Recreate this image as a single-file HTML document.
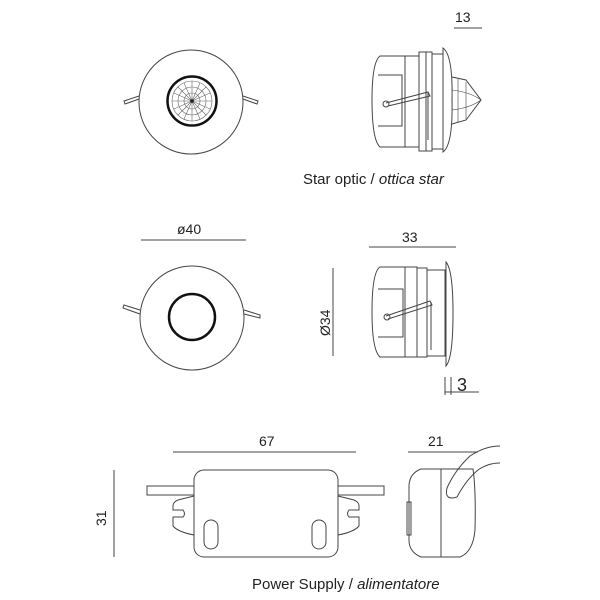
<!DOCTYPE html>
<html><head><style>body{margin:0;background:#fff}svg{display:block}text{font-family:"Liberation Sans",sans-serif;fill:#222}</style></head><body>
<svg width="600" height="600" viewBox="0 0 600 600" xmlns="http://www.w3.org/2000/svg" fill="none" stroke="#444" stroke-width="1">
<!-- top circle view -->
<circle cx="191" cy="102" r="52"/>
<path d="M139,96 L124,101 L125,104 L139,99"/><path d="M243,96 L258,101 L257,104 L243,99"/>
<circle cx="192" cy="101" r="24.5" stroke="#111" stroke-width="2.5"/>
<g stroke="#666" stroke-width="0.6">
<circle cx="192" cy="101" r="20"/><circle cx="192" cy="101" r="14"/><circle cx="192" cy="101" r="8"/>
<path d="M172,101H212M192,81V121M178,87L206,115M206,87L178,115M174,93L210,109M174,109L210,93M184,83L200,119M200,83L184,119"/>
</g>
<circle cx="192" cy="101" r="1.5" fill="#111"/>
<!-- side view 1 -->
<path d="M380,56 L405,56 L405,147 L380,147 Q372,140 372,100 Q372,62 380,56Z"/>
<path d="M378,75 L402,75 L402,126 L378,126"/>
<rect x="405" y="56" width="14" height="91"/><rect x="419" y="52" width="7" height="99"/><rect x="426" y="52" width="6" height="99"/>
<rect x="432" y="54" width="11" height="95"/>
<path d="M443,48 Q453,55 452,100 Q453,145 443,152Z"/>
<path d="M452,77 L466,80 L481,100 L466,120 L452,124"/>
<path d="M458,79 L458,122 M466,82 L466,119 M452,90 Q470,92 481,100 M452,110 Q470,108 481,100" stroke-width="0.6"/>
<path d="M386,103 L428,92 L430,96 L388,106" /><circle cx="386" cy="104" r="3"/><path d="M428,92 L428,140"/>
<path d="M454,28 L482,28"/>
<!-- bottom circle view -->
<circle cx="192" cy="318" r="52"/>
<path d="M140,310 L124,305 L123,308 L140,314"/><path d="M244,310 L260,315 L260,318 L244,314"/>
<circle cx="192" cy="317" r="23" stroke="#111" stroke-width="2.5"/>
<path d="M141,240 L246,240"/>
<!-- side view 2 -->
<path d="M380,267 L405,267 L405,357 L380,357 Q372,350 372,312 Q372,272 380,267Z"/>
<path d="M378,289 L403,289 L403,337 L378,337"/>
<rect x="405" y="267" width="12" height="90"/><rect x="417" y="268" width="10" height="89"/>
<rect x="427" y="270" width="18" height="86"/>
<path d="M446,262 Q453,270 453,313 Q453,358 446,366Z"/>
<path d="M386,316 L430,301 L432,305 L388,319"/><circle cx="387" cy="317" r="3"/><path d="M431,302 L431,350"/>
<path d="M369,247 L456,247"/><path d="M333,268 L333,356"/>
<path d="M445,377 L445,395 M451,377 L451,395 M445,392 L479,392"/>
<!-- power supply -->
<rect x="194" y="470" width="144" height="87" rx="10"/>
<rect x="147" y="486" width="47" height="9"/><rect x="338" y="486" width="46" height="9"/>
<path d="M194,496 L178,500 Q173,502 173,506 L173,510 L183,510 Q186,514 183,517 L173,517 L173,526 Q178,532 194,535"/>
<path d="M338,496 L354,500 Q359,502 359,506 L359,510 L349,510 Q346,514 349,517 L359,517 L359,526 Q354,532 338,535"/>
<rect x="204" y="520" width="14" height="29" rx="7"/><rect x="312" y="520" width="14" height="29" rx="7"/>
<path d="M173,452 L356,452"/><path d="M114,470 L114,557"/>
<path d="M421,469 L473,469 Q476,490 475,530 Q473,552 460,557 L421,557 Q409,552 409,540 L409,485 Q410,473 421,469Z"/>
<path d="M441,469 L441,557"/><rect x="407" y="502" width="4" height="33"/>
<path d="M447,488 Q455,470 470,456 Q485,446 500,446 M457,497 Q466,480 478,470 Q488,463 500,463 M447,488 Q444,501 457,497"/>
<path d="M408,452 L478,452"/>
</g>
<g stroke="none" font-size="14">
<text x="455" y="22">13</text>
<text x="303" y="184" font-size="15">Star optic / <tspan font-style="italic">ottica star</tspan></text>
<text x="177" y="234">ø40</text>
<text x="402" y="242">33</text>
<text x="330" y="336" transform="rotate(-90 330 336)">Ø34</text>
<text x="457" y="391" font-size="18">3</text>
<text x="259" y="446">67</text>
<text x="428" y="446">21</text>
<text x="106" y="526" transform="rotate(-90 106 526)">31</text>
<text x="252" y="589" font-size="15">Power Supply / <tspan font-style="italic">alimentatore</tspan></text>
</g>
</svg>
</body></html>
